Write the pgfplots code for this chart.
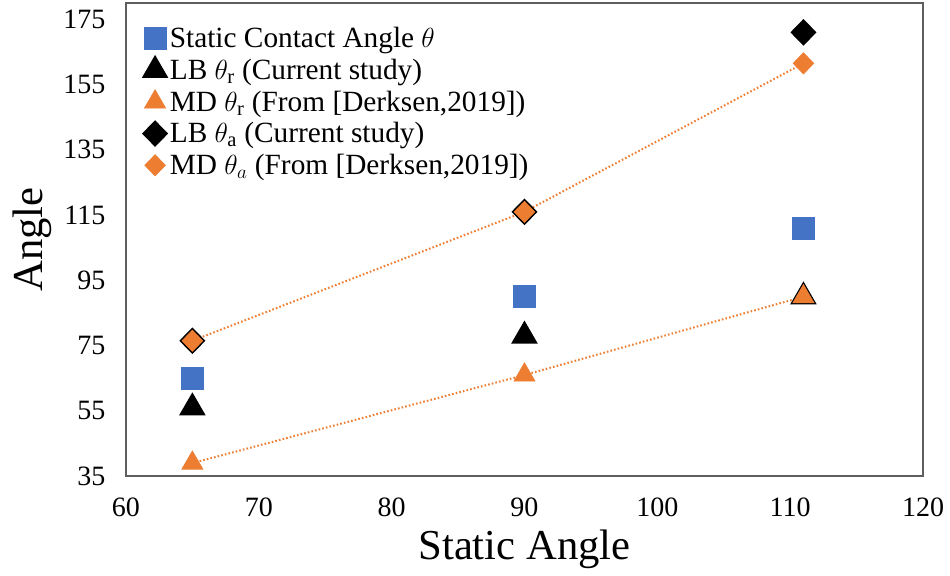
\documentclass[border=0pt]{standalone}
\usepackage{fontspec}
\setmainfont{Liberation Serif}
\usepackage{pgfplots}
\pgfplotsset{compat=1.18}
\definecolor{xlblue}{HTML}{4472C4}
\definecolor{xlorange}{HTML}{ED7D31}
\definecolor{xlgray}{HTML}{5E5E5E}
\begin{document}
\begin{tikzpicture}
\useasboundingbox (-94.5pt,-74.25pt) rectangle (618.25pt,357.25pt);
\begin{axis}[
  scale only axis, width=598pt, height=355pt,
  xmin=60, xmax=120, ymin=35, ymax=180,
  xtick={60,70,...,120}, ytick={35,55,...,175},
  major tick length=0pt,
  axis line style={draw=xlgray, line width=1.1pt},
  /pgf/number format/assume math mode=true,
  ticklabel style={font=\fontsize{21}{25}\selectfont},
  yticklabel style={xshift=-12pt},
  xticklabel style={yshift=-13pt},
  xlabel={Static Angle}, ylabel={Angle},
  xlabel style={font=\fontsize{32}{36}\selectfont, at={(axis description cs:0.5,-0.155)}, anchor=center},
  ylabel style={font=\fontsize{32}{36}\selectfont, at={(axis description cs:-0.118,0.5)}, anchor=center},
  legend style={draw=none, fill=none, at={(rel axis cs:0.021,0.955)}, anchor=north west,
    font=\fontsize{22}{24}\selectfont, row sep=3pt, inner sep=0pt},
  legend cell align=left,
]
% dotted connecting lines (MD)
\addplot[forget plot, xlorange, line width=1.5pt, dash pattern=on 1.2pt off 1.6pt] coordinates {(65,39) (90,66) (111,90)};
\addplot[forget plot, xlorange, line width=1.5pt, dash pattern=on 1.2pt off 1.6pt] coordinates {(65,76.5) (90,116) (111,161.5)};
\addplot[only marks, mark=square*, mark size=8.2pt, mark options={fill=xlblue, draw=xlblue}] coordinates {(65,65) (90,90) (111,111)};
\addlegendentry{Static Contact Angle $\theta$}
\addplot[only marks, mark=triangle*, mark size=10.5pt, mark options={fill=black, draw=black, line width=1pt}] coordinates {(65,56) (90,78) (111,90)};
\addlegendentry{LB $\theta_{\mathrm{r}}$ (Current study)}
\addplot[only marks, mark=triangle*, mark size=9.2pt, mark options={fill=xlorange, draw=xlorange}] coordinates {(65,39) (90,66) (111,90)};
\addlegendentry{MD $\theta_{\mathrm{r}}$ (From [Derksen,2019])}
\addplot[only marks, mark=diamond*, mark size=9.3pt, mark options={fill=black, draw=black, line width=1pt, xscale=1.3}] coordinates {(65,76.5) (90,116) (111,171)};
\addlegendentry{LB $\theta_{\mathrm{a}}$ (Current study)}
\addplot[only marks, mark=diamond*, mark size=8.0pt, mark options={fill=xlorange, draw=xlorange, xscale=1.3}] coordinates {(65,76.5) (90,116) (111,161.5)};
\addlegendentry{MD $\theta_{a}$ (From [Derksen,2019])}
\end{axis}
\end{tikzpicture}
\end{document}
